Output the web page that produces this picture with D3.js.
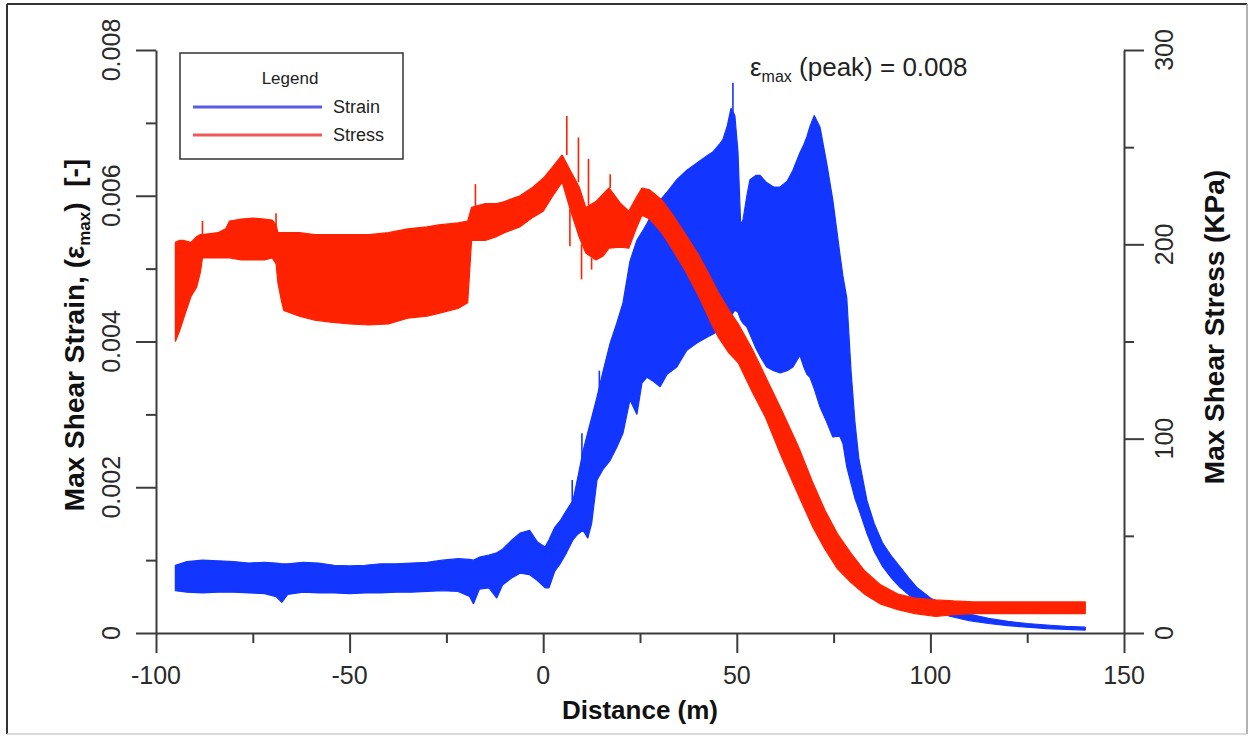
<!DOCTYPE html>
<html><head><meta charset="utf-8">
<script src="https://cdn.jsdelivr.net/npm/d3@7"></script>
<style>
body{margin:0;background:#fff}
svg{display:block}
text{font-family:"Liberation Sans",Arial,sans-serif}
</style>
</head><body>
<svg id="c" width="1252" height="736"></svg>
<script>
// ---------- data ----------
const xTicks = [-100, -50, 0, 50, 100, 150];
const xMinorTicks = [-75, -25, 25, 75, 125];
const strainTicks = [0, 0.002, 0.004, 0.006, 0.008];
const strainMinorTicks = [0.001, 0.003, 0.005, 0.007];
const stressTicks = [0, 100, 200, 300];
const stressMinorTicks = [50, 150, 250];
const seriesNames = ["Strain", "Stress"];

// Max shear strain envelope: [distance (m), upper, lower]
const strainBand = [
  [-95,0.93e-3,0.58e-3],[-92,0.98e-3,0.56e-3],[-88,1.00e-3,0.55e-3],[-84,0.99e-3,0.56e-3],
  [-80,0.98e-3,0.56e-3],[-76,0.96e-3,0.55e-3],[-72,0.97e-3,0.54e-3],[-69,0.96e-3,0.50e-3],
  [-67.5,0.95e-3,0.42e-3],[-66,0.95e-3,0.53e-3],[-62,0.97e-3,0.56e-3],[-58,0.96e-3,0.55e-3],
  [-54,0.93e-3,0.55e-3],[-50,0.92e-3,0.54e-3],[-46,0.93e-3,0.55e-3],[-42,0.95e-3,0.55e-3],
  [-38,0.95e-3,0.56e-3],[-34,0.96e-3,0.56e-3],[-30,0.97e-3,0.57e-3],[-26,1.00e-3,0.58e-3],
  [-22,1.02e-3,0.57e-3],[-19,1.01e-3,0.50e-3],[-18,1.00e-3,0.40e-3],[-16.5,1.04e-3,0.60e-3],
  [-14,1.07e-3,0.62e-3],[-12,1.10e-3,0.48e-3],[-10.5,1.15e-3,0.66e-3],[-8,1.28e-3,0.76e-3],
  [-6,1.37e-3,0.82e-3],[-3.5,1.41e-3,0.80e-3],[-1.5,1.25e-3,0.72e-3],[0.5,1.18e-3,0.62e-3],
  [1.5,1.28e-3,0.62e-3],[3,1.45e-3,0.85e-3],[4.5,1.55e-3,0.96e-3],[6,1.68e-3,1.10e-3],
  [7.7,1.82e-3,1.28e-3],[9,2.15e-3,1.36e-3],[10.3,2.50e-3,1.41e-3],[11.5,2.75e-3,1.30e-3],
  [12.5,2.95e-3,1.50e-3],[13.9,3.24e-3,2.10e-3],[15.5,3.60e-3,2.25e-3],[17.3,3.98e-3,2.37e-3],
  [19,4.25e-3,2.55e-3],[20.6,4.53e-3,2.74e-3],[22.4,5.10e-3,3.20e-3],[24.2,5.39e-3,3.00e-3],
  [25.5,5.50e-3,3.43e-3],[26.8,5.62e-3,3.51e-3],[28.5,5.80e-3,3.45e-3],[30.2,5.94e-3,3.38e-3],
  [32,6.05e-3,3.55e-3],[34.5,6.22e-3,3.65e-3],[37.1,6.35e-3,3.88e-3],[39.7,6.45e-3,3.98e-3],
  [42.3,6.55e-3,4.06e-3],[43.8,6.60e-3,4.10e-3],[45.7,6.72e-3,4.16e-3],[46.4,6.77e-3,4.20e-3],
  [47.5,6.95e-3,4.28e-3],[48.5,7.20e-3,4.35e-3],[49.5,7.10e-3,4.43e-3],[50.3,6.60e-3,4.40e-3],
  [51,5.60e-3,4.30e-3],[51.6,5.67e-3,4.25e-3],[52.6,6.00e-3,4.20e-3],[53.4,6.22e-3,4.10e-3],
  [55,6.28e-3,3.90e-3],[56,6.28e-3,3.80e-3],[57.7,6.18e-3,3.65e-3],[59.5,6.12e-3,3.60e-3],
  [61.2,6.12e-3,3.57e-3],[63,6.20e-3,3.60e-3],[64.5,6.35e-3,3.65e-3],[66.3,6.59e-3,3.81e-3],
  [67.3,6.70e-3,3.65e-3],[68.1,6.81e-3,3.55e-3],[68.9,6.95e-3,3.51e-3],[70,7.10e-3,3.35e-3],
  [71.5,6.94e-3,3.10e-3],[73.2,6.45e-3,2.90e-3],[74.8,5.94e-3,2.69e-3],[76.6,5.21e-3,2.70e-3],
  [77.4,4.90e-3,2.60e-3],[78.4,4.60e-3,2.28e-3],[79.5,3.60e-3,2.05e-3],[80.5,2.90e-3,1.85e-3],
  [81.5,2.40e-3,1.70e-3],[83.6,1.82e-3,1.37e-3],[85.5,1.50e-3,1.12e-3],[87.7,1.23e-3,0.91e-3],
  [90,1.05e-3,0.75e-3],[92.1,0.91e-3,0.63e-3],[94.5,0.75e-3,0.52e-3],[96.6,0.62e-3,0.42e-3],
  [100,0.48e-3,0.33e-3],[105,0.35e-3,0.23e-3],[110,0.26e-3,0.17e-3],[115,0.20e-3,0.13e-3],
  [120,0.16e-3,0.10e-3],[125,0.13e-3,0.08e-3],[130,0.11e-3,0.06e-3],[135,0.09e-3,0.05e-3],
  [140,0.08e-3,0.04e-3]
];
// isolated strain spikes: [distance, base, tip]
const strainSpikes = [
  [49.0,7.10e-3,7.55e-3],[7.5,1.80e-3,2.10e-3],[10.0,2.40e-3,2.74e-3],[14.5,3.30e-3,3.60e-3]
];

// Max shear stress envelope (kPa): [distance (m), upper, lower]
const stressBand = [
  [-95,201,150],[-94,202,155],[-93,202,161],[-91,201,173],[-89.5,204,178],[-88.5,205,186],
  [-88,205,193],[-84,206,193],[-82,208,193],[-81,212,193],[-78,213,192],[-75,213.5,192],
  [-72,213,192],[-70,212.5,193],[-69,210,190],[-68.5,206,180],[-67.5,206,170],[-67,206,166],
  [-63,206,163],[-59,205,161],[-55,205,160],[-50,205,159],[-45,205,158.5],[-40,206,159],
  [-35,208,162],[-30,209,163],[-27,210,164.5],[-22,211,167],[-19.5,212,170],[-18.5,219,202],
  [-15,221,202],[-12,221,204],[-10,222,206],[-6,225,209],[-2.6,229.5,214],[0,234,217],
  [2.5,240,225],[4.9,246,232],[7,238,217.7],[9.3,229.5,203.8],[11,219,195.5],[13.6,222,192],
  [15.5,226,194],[17,229,198],[20,221,198.6],[22.1,217,198],[24,224,208],[25.5,229,215],
  [27.5,228,213],[30.6,223,206],[33.5,215,197],[36.8,205,186],[40,195,174],[43,184,161],
  [45.3,175,152],[48,166,144],[50.4,159,139],[54,146,124],[57.4,132,111],[61.5,115,91],
  [65.9,96,71],[69.5,78,55],[72.8,63,43],[76,51,33],[79.5,41,26],[83,32,20],[87,25,15],
  [91.6,20,12],[96,18,10],[101.4,17,8.5],[106,16.5,9.5],[111,16,10],[120,16,10],[130,16,10],
  [140,16,10]
];
// isolated stress spikes: [distance, base, tip]
const stressSpikes = [
  [-88,205,212],[-69,210,216],[-17.5,219,231],[6.1,246,266],[9.1,232,255],[11.7,220,244],
  [17.3,229,236],[6.9,218,199],[9.9,200,182],[12.5,193,187]
];

// ---------- drawing ----------
const svg = d3.select("#c");
const x = d3.scaleLinear().domain([-100,150]).range([156,1124]);
const yL = d3.scaleLinear().domain([0,0.008]).range([633,50]);
const yR = d3.scaleLinear().domain([0,300]).range([633,50]);

const BLUE = "#1236ff", RED = "#ff2200", AXIS = "#3c3c3c";

// outer frame
svg.append("line").attr("x1",7).attr("y1",4).attr("x2",7).attr("y2",734).attr("stroke","#333").attr("stroke-width",2);
svg.append("line").attr("x1",7).attr("y1",4).attr("x2",1247).attr("y2",4).attr("stroke","#333").attr("stroke-width",2);
svg.append("line").attr("x1",1247).attr("y1",4).attr("x2",1247).attr("y2",734).attr("stroke","#999").attr("stroke-width",1.5);
svg.append("line").attr("x1",7).attr("y1",734).attr("x2",1247).attr("y2",734).attr("stroke","#ccc").attr("stroke-width",1.5);

// strain band
const strainArea = d3.area().x(d=>x(d[0])).y0(d=>yL(d[2])).y1(d=>yL(d[1]));
svg.append("path").datum(strainBand).attr("d",strainArea)
  .attr("fill",BLUE).attr("stroke",BLUE).attr("stroke-width",1.2).attr("stroke-linejoin","bevel");
svg.append("g").selectAll("line").data(strainSpikes).join("line")
  .attr("x1",d=>x(d[0])).attr("x2",d=>x(d[0])).attr("y1",d=>yL(d[1])).attr("y2",d=>yL(d[2]))
  .attr("stroke",BLUE).attr("stroke-width",1.6);

// stress band
const stressArea = d3.area().x(d=>x(d[0])).y0(d=>yR(d[2])).y1(d=>yR(d[1]));
svg.append("path").datum(stressBand).attr("d",stressArea)
  .attr("fill",RED).attr("stroke",RED).attr("stroke-width",1.2).attr("stroke-linejoin","bevel");
svg.append("g").selectAll("line").data(stressSpikes).join("line")
  .attr("x1",d=>x(d[0])).attr("x2",d=>x(d[0])).attr("y1",d=>yR(d[1])).attr("y2",d=>yR(d[2]))
  .attr("stroke",RED).attr("stroke-width",1.6);

// axes
function styleAxis(g, keepDomain){
  g.selectAll(".tick line").attr("stroke",AXIS).attr("stroke-width",2);
  if(keepDomain) g.select(".domain").attr("stroke",AXIS).attr("stroke-width",2);
  else g.select(".domain").remove();
  g.selectAll(".tick text").remove();
}
svg.append("g").attr("transform","translate(0,633)")
  .call(d3.axisBottom(x).tickValues(xTicks).tickSize(20).tickSizeOuter(0).tickFormat(""))
  .call(g=>styleAxis(g,true));
svg.append("g").attr("transform","translate(0,633)")
  .call(d3.axisBottom(x).tickValues(xMinorTicks).tickSize(10).tickSizeOuter(0).tickFormat(""))
  .call(g=>styleAxis(g,false));
svg.append("g").attr("transform","translate(156,0)")
  .call(d3.axisLeft(yL).tickValues(strainTicks).tickSize(20).tickSizeOuter(0).tickFormat(""))
  .call(g=>styleAxis(g,true));
svg.append("g").attr("transform","translate(156,0)")
  .call(d3.axisLeft(yL).tickValues(strainMinorTicks).tickSize(10).tickSizeOuter(0).tickFormat(""))
  .call(g=>styleAxis(g,false));
svg.append("g").attr("transform","translate(1124,0)")
  .call(d3.axisRight(yR).tickValues(stressTicks).tickSize(20).tickSizeOuter(0).tickFormat(""))
  .call(g=>styleAxis(g,true));
svg.append("g").attr("transform","translate(1124,0)")
  .call(d3.axisRight(yR).tickValues(stressMinorTicks).tickSize(10).tickSizeOuter(0).tickFormat(""))
  .call(g=>styleAxis(g,false));

// tick labels
const TL = {"font-size":"25px", fill:"#2a2a2a"};
svg.append("g").selectAll("text").data(xTicks).join("text")
  .attr("x",d=>x(d)).attr("y",684).attr("text-anchor","middle")
  .attr("font-size",TL["font-size"]).attr("fill",TL.fill).text(d=>String(d));
svg.append("g").selectAll("text").data(strainTicks).join("text")
  .attr("transform",d=>`translate(120,${yL(d)}) rotate(-90)`).attr("text-anchor","middle")
  .attr("font-size",TL["font-size"]).attr("fill",TL.fill).text(d=>d===0?"0":d.toFixed(3));
svg.append("g").selectAll("text").data(stressTicks).join("text")
  .attr("transform",d=>`translate(1173,${yR(d)}) rotate(-90)`).attr("text-anchor","middle")
  .attr("font-size",TL["font-size"]).attr("fill",TL.fill).text(d=>String(d));

// axis titles
svg.append("text").attr("x",640).attr("y",719).attr("text-anchor","middle")
  .attr("font-size","26px").attr("font-weight","bold").attr("fill","#111").text("Distance (m)");
const lt = svg.append("text").attr("transform","translate(84,335) rotate(-90)").attr("text-anchor","middle")
  .attr("font-size","28px").attr("font-weight","bold").attr("fill","#111");
lt.append("tspan").text("Max Shear Strain, (ε");
lt.append("tspan").attr("font-size","17px").attr("dy",6).text("max");
lt.append("tspan").attr("dy",-6).text(")\u00a0\u00a0[-]");
svg.append("text").attr("transform","translate(1224,327) rotate(-90)").attr("text-anchor","middle")
  .attr("font-size","28px").attr("font-weight","bold").attr("fill","#111").text("Max Shear Stress (KPa)");

// annotation
const an = svg.append("text").attr("x",750).attr("y",76).attr("font-size","26px").attr("fill","#222");
an.append("tspan").text("ε");
an.append("tspan").attr("font-size","16px").attr("dy",6).text("max");
an.append("tspan").attr("dy",-6).text(" (peak) = 0.008");

// legend
const lg = svg.append("g");
lg.append("rect").attr("x",180).attr("y",53).attr("width",223).attr("height",106)
  .attr("fill","#fff").attr("stroke","#333").attr("stroke-width",1.5);
lg.append("text").attr("x",290).attr("y",84).attr("text-anchor","middle").attr("font-size","17px").attr("fill","#222").text("Legend");
const legColors = ["#5a5ae8","#f05858"];
seriesNames.forEach((n,i)=>{
  const yy = 107 + i*28;
  lg.append("line").attr("x1",193).attr("x2",322).attr("y1",yy).attr("y2",yy)
    .attr("stroke",legColors[i]).attr("stroke-width",3);
  lg.append("text").attr("x",333).attr("y",yy+6).attr("font-size","18px").attr("fill","#222").text(n);
});
</script>
</body></html>
